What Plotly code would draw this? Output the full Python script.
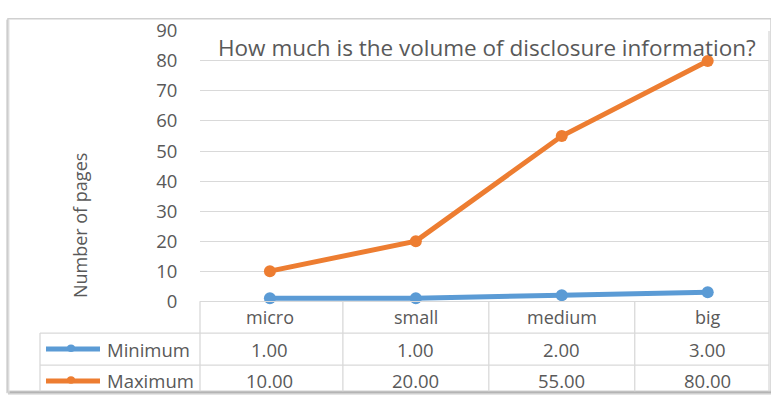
import plotly.graph_objects as go

# Data
categories = ["micro", "small", "medium", "big"]
minimum = [1, 1, 2, 3]
maximum = [10, 20, 55, 80]
series_names = ["Minimum", "Maximum"]
y_ticks = [0, 10, 20, 30, 40, 50, 60, 70, 80, 90]
chart_title = "How much is the volume of disclosure information?"
y_title = "Number of pages"

W, H = 771, 407
BLUE = "#5B9BD5"
ORANGE = "#ED7D31"
GRID = "#D9D9D9"
TEXT = "#595959"
FONT = "Open Sans"


def px(x):
    return x / W


def py(y):
    return 1 - y / H


# plot area in pixels
PL, PR, PT, PB = 200, 769, 18, 306
ROW1, ROW2, ROW3 = 323, 357, 391  # table row centres
LINES_Y = [340, 374]

fig = go.Figure()
for name, vals, col in [(series_names[0], minimum, BLUE), (series_names[1], maximum, ORANGE)]:
    fig.add_trace(go.Scatter(
        x=list(range(len(categories))), y=vals, name=name, mode="lines+markers",
        line=dict(color=col, width=5), marker=dict(color=col, size=12),
        showlegend=False, hoverinfo="skip", cliponaxis=False,
    ))

shapes = []
# chart frame with soft shadow
shapes.append(dict(type="rect", xref="paper", yref="paper", x0=px(8), x1=px(771), y0=py(402), y1=py(5),
                   line=dict(color="#D0D0D0", width=1.5), layer="below"))
for i, c in enumerate(["#BDBDBD", "#CFCFCF", "#E3E3E3"]):
    shapes.append(dict(type="line", xref="paper", yref="paper", x0=px(7 + i), x1=px(7 + i),
                       y0=py(6), y1=py(404), line=dict(color=c, width=1)))
    shapes.append(dict(type="line", xref="paper", yref="paper", x0=px(8), x1=px(771),
                       y0=py(403 + i), y1=py(403 + i),
                       line=dict(color=["#9A9A9A", "#B5B5B5", "#D5D5D5"][i], width=1)))

# data table grid
for yy in LINES_Y:
    shapes.append(dict(type="line", xref="paper", yref="paper", x0=px(40), x1=px(PR), y0=py(yy), y1=py(yy),
                       line=dict(color=GRID, width=1.3)))
shapes.append(dict(type="line", xref="paper", yref="paper", x0=px(40), x1=px(40), y0=py(340), y1=py(402),
                   line=dict(color=GRID, width=1.3)))
shapes.append(dict(type="line", xref="paper", yref="paper", x0=px(PL), x1=px(PL), y0=py(PB), y1=py(402),
                   line=dict(color=GRID, width=1.3)))
shapes.append(dict(type="line", xref="paper", yref="paper", x0=px(PR), x1=px(PR), y0=py(PT), y1=py(402),
                   line=dict(color=GRID, width=1.3)))
for i in range(len(categories) - 1):
    shapes.append(dict(type="line", xref="x", yref="paper", x0=i + 0.5, x1=i + 0.5, y0=py(PB), y1=py(402),
                       line=dict(color=GRID, width=1.3)))

# legend keys inside the table
for yy, col in [(ROW2, BLUE), (ROW3, ORANGE)]:
    shapes.append(dict(type="line", xref="paper", yref="paper", x0=px(46), x1=px(100), y0=py(yy), y1=py(yy),
                       line=dict(color=col, width=5)))
    shapes.append(dict(type="circle", xref="paper", yref="paper", x0=px(67), x1=px(75), y0=py(yy + 3),
                       y1=py(yy - 5), fillcolor=col, line=dict(color=col, width=0)))


def label(text, x, y, size, xref="paper", xanchor="center", angle=0):
    return dict(text=text, xref=xref, yref="paper", x=x, y=y, xanchor=xanchor, yanchor="middle",
                textangle=angle, showarrow=False, font=dict(family=FONT, size=size, color=TEXT))


annotations = [
    label(chart_title, px(487), py(36), 22.5),
    label(y_title, px(80), py(226), 18, angle=-90),
]
for i, cat in enumerate(categories):
    annotations.append(label(cat, i, py(ROW1), 18, xref="x"))
for vals, yy in [(minimum, ROW2), (maximum, ROW3)]:
    for i, v in enumerate(vals):
        annotations.append(label(f"{v:.2f}", i, py(yy), 18.5, xref="x"))
for name, yy in zip(series_names, [ROW2, ROW3]):
    annotations.append(label(name, px(105), py(yy), 18.5, xanchor="left"))

fig.update_layout(
    width=W, height=H, margin=dict(l=0, r=0, t=0, b=0),
    paper_bgcolor="white", plot_bgcolor="white",
    xaxis=dict(domain=[px(PL), px(PR)], range=[-0.479, 3.42], showticklabels=False, showgrid=False,
               zeroline=False, showline=True, linecolor=GRID, linewidth=1.3, fixedrange=True),
    yaxis=dict(domain=[py(PB), py(PT)], range=[0, 90], tickvals=y_ticks, showgrid=True, gridcolor=GRID,
               gridwidth=1.3, zeroline=False, showline=False, ticks="outside", ticklen=18,
               tickcolor="rgba(0,0,0,0)", tickfont=dict(family=FONT, size=18.5, color=TEXT), fixedrange=True),
    shapes=shapes, annotations=annotations,
)

fig.write_html("out.html")
